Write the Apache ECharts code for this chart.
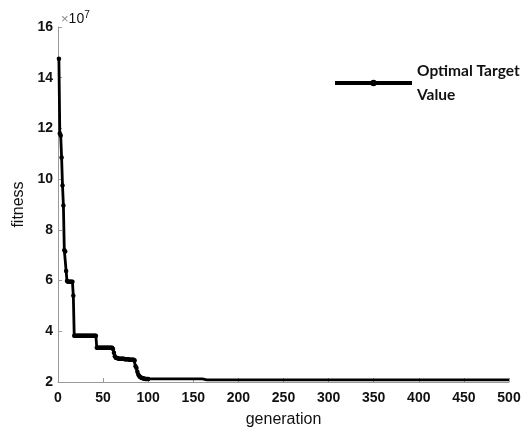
<!DOCTYPE html>
<html>
<head>
<meta charset="utf-8">
<script src="https://cdn.jsdelivr.net/npm/echarts@6/dist/echarts.min.js"></script>
<style>
  html, body { margin: 0; padding: 0; background: #fff; }
  #chart { width: 522px; height: 430px; }
</style>
</head>
<body>
<div id="chart"></div>
<script>
// fitness (x10^7) for generations 1..100
const fitnessEarly = [
  14.75, 11.8, 11.72, 10.85, 9.75, 8.96, 7.2, 7.15, 6.38, 5.98,
  5.95, 5.95, 5.95, 5.95, 5.95, 5.95, 5.4, 3.82, 3.82, 3.82,
  3.82, 3.82, 3.82, 3.82, 3.82, 3.82, 3.82, 3.82, 3.82, 3.82,
  3.82, 3.82, 3.82, 3.82, 3.82, 3.82, 3.82, 3.82, 3.82, 3.82,
  3.82, 3.82, 3.35, 3.35, 3.35, 3.35, 3.35, 3.35, 3.35, 3.35,
  3.35, 3.35, 3.35, 3.35, 3.35, 3.35, 3.35, 3.35, 3.35, 3.35,
  3.3, 3.15, 3.02, 2.96, 2.95, 2.95, 2.92, 2.92, 2.92, 2.92,
  2.92, 2.92, 2.92, 2.9, 2.9, 2.9, 2.9, 2.9, 2.88, 2.88,
  2.88, 2.88, 2.88, 2.88, 2.85, 2.62, 2.55, 2.4, 2.3, 2.24,
  2.2, 2.18, 2.16, 2.15, 2.14, 2.13, 2.12, 2.12, 2.12, 2.12
];
// later generations, where the value barely changes
const tailGenerations = [
  105, 110, 115, 120, 125, 130, 135, 140, 145, 150, 155, 160,
  165, 170, 180, 190, 200, 210, 220, 230, 240, 250, 260, 270, 280, 290,
  300, 310, 320, 330, 340, 350, 360, 370, 380, 390,
  400, 410, 420, 430, 440, 450, 460, 470, 480, 490, 500
];
const tailFitness = [
  2.12, 2.12, 2.12, 2.12, 2.12, 2.12, 2.12, 2.12, 2.12, 2.12, 2.12, 2.12,
  2.08, 2.08, 2.08, 2.08, 2.08, 2.08, 2.08, 2.08, 2.08, 2.08, 2.08, 2.08, 2.08, 2.08,
  2.08, 2.08, 2.08, 2.08, 2.08, 2.08, 2.08, 2.08, 2.08, 2.08,
  2.08, 2.08, 2.08, 2.08, 2.08, 2.08, 2.08, 2.08, 2.08, 2.08, 2.08
];

// tail points are plain line (markers there merge into a thick line in the original)
const seriesData = fitnessEarly.map((v, i) => [i + 1, v])
  .concat(tailGenerations.map((g, i) => ({ value: [g, tailFitness[i]], symbol: 'none' })));

const chart = echarts.init(document.getElementById('chart'));

const axisGray = '#9a9a9a';
const arial = 'Liberation Sans, Arial, sans-serif';
const labelFont = { color: '#111', fontSize: 14, fontWeight: 'bold', fontFamily: arial };

chart.setOption({
  animation: false,
  backgroundColor: '#fff',
  grid: { left: 58, right: 13, top: 27, bottom: 48, outerBoundsMode: 'none' },
  legend: {
    left: 328,
    top: 54,
    itemWidth: 77,
    itemHeight: 8,
    lineStyle: { width: 4, color: '#000' },
    textStyle: {
      fontFamily: 'Lato, Calibri, sans-serif',
      fontWeight: 'bold',
      fontSize: 15.5,
      color: '#111',
      lineHeight: 24
    },
    data: ['Optimal Target\nValue']
  },
  xAxis: {
    type: 'value',
    min: 0,
    max: 500,
    interval: 50,
    name: 'generation',
    nameLocation: 'middle',
    nameGap: 30,
    nameTextStyle: { color: '#111', fontSize: 16, fontFamily: arial },
    axisLine: { show: true, lineStyle: { color: axisGray, width: 1 } },
    axisTick: { show: true, inside: true, length: 4, lineStyle: { color: axisGray } },
    axisLabel: Object.assign({ margin: 9 }, labelFont),
    splitLine: { show: false }
  },
  yAxis: {
    type: 'value',
    min: 2,
    max: 16,
    interval: 2,
    name: 'fitness',
    nameLocation: 'middle',
    nameGap: 21,
    nameTextStyle: { color: '#111', fontSize: 16, fontFamily: arial },
    axisLine: { show: true, lineStyle: { color: axisGray, width: 1 } },
    axisTick: { show: true, inside: true, length: 4, lineStyle: { color: axisGray } },
    axisLabel: Object.assign({ margin: 5 }, labelFont),
    splitLine: { show: false }
  },
  graphic: [{
    type: 'text',
    left: 61,
    top: 10,
    style: {
      text: '{x|×}{n|10}{s|7}',
      rich: {
        x: { fill: '#888', fontSize: 13, fontFamily: arial },
        n: { fill: '#111', fontSize: 14, fontFamily: arial },
        s: { fill: '#111', fontSize: 10, fontFamily: arial, padding: [0, 0, 8, 0] }
      }
    }
  }],
  series: [{
    name: 'Optimal Target\nValue',
    type: 'line',
    data: seriesData,
    symbol: 'circle',
    symbolSize: 4.5,
    itemStyle: { color: '#000' },
    lineStyle: { color: '#000', width: 2.8 }
  }]
});
</script>
</body>
</html>
